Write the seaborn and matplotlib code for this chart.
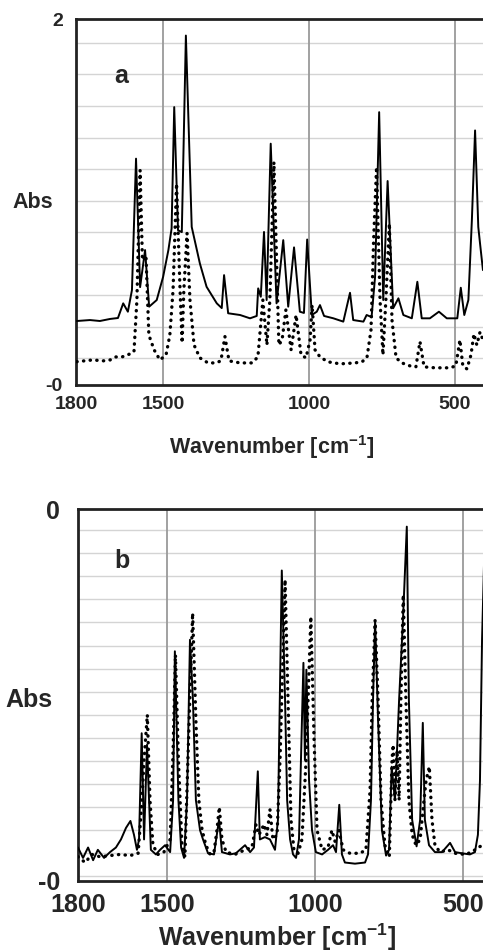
import numpy as np
import pandas as pd
import matplotlib
matplotlib.use("Agg")
import matplotlib.pyplot as plt
import seaborn as sns

# --- spectra (wavenumber [cm-1], absorbance) ---

# panel a, solid trace
a_solid_wn = [1797, 1752, 1718, 1683, 1656, 1638, 1622, 1608, 1594, 1580, 1563, 1549,
              1523, 1501, 1483, 1472, 1463, 1450, 1437, 1423, 1403, 1375, 1352, 1317,
              1300, 1292, 1278, 1237, 1203, 1180, 1175, 1166, 1155, 1146, 1132, 1112,
              1089, 1072, 1052, 1032, 1018, 1007, 991, 974, 963, 949, 917, 883, 860,
              849, 814, 803, 786, 774, 760, 746, 731, 712, 694, 677, 648, 629, 614,
              586, 555, 528, 492, 480, 468, 454, 442, 431, 420, 414, 404]
a_solid_abs = [0.236, 0.242, 0.236, 0.249, 0.255, 0.348, 0.295, 0.432, 1.266, 0.451, 0.686,
               0.327, 0.369, 0.517, 0.686, 0.823, 1.593, 0.812, 0.800, 2.047, 0.833, 0.601,
               0.453, 0.348, 0.318, 0.527, 0.285, 0.274, 0.253, 0.268, 0.443, 0.390, 0.801,
               0.369, 1.361, 0.348, 0.749, 0.327, 0.703, 0.295, 0.287, 0.753, 0.274, 0.295,
               0.337, 0.268, 0.253, 0.232, 0.415, 0.242, 0.232, 0.274, 0.261, 0.517, 1.561,
               0.369, 1.124, 0.317, 0.380, 0.274, 0.253, 0.485, 0.253, 0.253, 0.295, 0.253,
               0.253, 0.447, 0.274, 0.369, 0.875, 1.445, 0.833, 0.728, 0.559]

# panel a, dotted trace
a_dot_wn = [1797, 1742, 1707, 1683, 1663, 1642, 1615, 1601, 1591, 1580, 1572, 1560, 1550,
            1532, 1512, 1491, 1478, 1467, 1455, 1443, 1436, 1430, 1419, 1409, 1395, 1375,
            1347, 1320, 1303, 1289, 1275, 1237, 1196, 1176, 1159, 1145, 1135, 1121, 1104,
            1093, 1080, 1062, 1045, 1028, 1011, 997, 990, 980, 963, 936, 894, 843, 819,
            802, 788, 779, 769, 757, 747, 737, 725, 716, 702, 682, 654, 634, 620, 606,
            569, 517, 497, 483, 473, 459, 445, 435, 425, 414, 404]
a_dot_abs = [-0.022, -0.011, -0.017, -0.011, 0.008, 0.008, 0.027, 0.042, 0.369, 1.192, 0.622,
             0.654, 0.147, 0.053, -0.011, 0.021, 0.147, 0.432, 1.108, 0.432, 0.097, 0.432,
             0.793, 0.369, 0.084, 0.002, -0.030, -0.030, -0.017, 0.137, -0.017, -0.030,
             -0.030, 0.008, 0.369, 0.084, 0.369, 1.244, 0.084, 0.116, 0.306, 0.053, 0.274,
             0.021, 0.002, 0.116, 0.337, 0.053, 0.008, -0.023, -0.036, -0.030, -0.023,
             0.002, 0.179, 0.749, 1.213, 0.369, 0.021, 0.369, 0.855, 0.242, 0.002, -0.030,
             -0.049, -0.055, 0.105, -0.055, -0.061, -0.061, -0.049, 0.116, -0.049, -0.068,
             0.021, 0.154, 0.084, 0.166, 0.116]

# panel b, solid trace
b_solid_wn = [1800, 1783, 1766, 1749, 1733, 1712, 1692, 1672, 1655, 1638, 1623, 1611, 1601,
              1594, 1585, 1577, 1567, 1554, 1537, 1523, 1506, 1489, 1479, 1473, 1461, 1452,
              1442, 1432, 1422, 1412, 1402, 1388, 1378, 1361, 1341, 1324, 1314, 1287, 1267,
              1236, 1219, 1206, 1193, 1186, 1169, 1152, 1135, 1125, 1112, 1101, 1094, 1084,
              1074, 1064, 1054, 1044, 1039, 1034, 1029, 1020, 1010, 997, 976, 956, 939, 929,
              918, 909, 899, 865, 831, 821, 811, 804, 797, 787, 774, 760, 750, 741, 730, 716,
              703, 690, 683, 672, 657, 645, 636, 629, 615, 595, 571, 544, 527, 504, 477, 460,
              450, 443, 436, 429]
b_solid_abs = [-0.275, -0.284, -0.275, -0.286, -0.277, -0.284, -0.279, -0.275, -0.268, -0.258,
               -0.252, -0.264, -0.277, -0.268, -0.176, -0.268, -0.186, -0.277, -0.281, -0.277,
               -0.273, -0.279, -0.234, -0.105, -0.234, -0.275, -0.284, -0.234, -0.095, -0.147,
               -0.234, -0.260, -0.268, -0.280, -0.281, -0.251, -0.279, -0.281, -0.280, -0.273,
               -0.279, -0.275, -0.209, -0.268, -0.266, -0.268, -0.277, -0.251, -0.035, -0.147,
               -0.234, -0.268, -0.281, -0.284, -0.268, -0.165, -0.115, -0.199, -0.121, -0.217,
               -0.260, -0.279, -0.281, -0.277, -0.273, -0.279, -0.238, -0.281, -0.288, -0.289,
               -0.288, -0.281, -0.234, -0.147, -0.079, -0.165, -0.260, -0.282, -0.277, -0.205,
               -0.234, -0.147, -0.078, 0.003, -0.147, -0.251, -0.274, -0.251, -0.167, -0.251,
               -0.273, -0.279, -0.279, -0.271, -0.279, -0.280, -0.281, -0.279, -0.264, -0.217,
               -0.095, -0.026]

# panel b, dotted trace
b_dot_wn = [1800, 1776, 1753, 1726, 1692, 1658, 1624, 1597, 1584, 1577, 1566, 1557, 1547,
            1530, 1510, 1489, 1479, 1471, 1461, 1449, 1439, 1429, 1413, 1402, 1392, 1381,
            1368, 1354, 1341, 1331, 1323, 1314, 1300, 1270, 1236, 1213, 1199, 1189, 1172,
            1162, 1152, 1142, 1128, 1118, 1101, 1091, 1081, 1071, 1057, 1044, 1030, 1014,
            1003, 993, 976, 956, 943, 932, 919, 905, 882, 848, 828, 814, 807, 797, 787, 777,
            764, 749, 740, 736, 730, 723, 716, 710, 702, 693, 683, 672, 659, 645, 632, 625,
            614, 605, 595, 578, 551, 527, 494, 470, 450, 433]
b_dot_abs = [-0.283, -0.288, -0.281, -0.283, -0.282, -0.281, -0.282, -0.280, -0.234, -0.199,
             -0.160, -0.234, -0.273, -0.281, -0.279, -0.268, -0.191, -0.108, -0.199, -0.273,
             -0.283, -0.199, -0.072, -0.165, -0.234, -0.260, -0.273, -0.281, -0.279, -0.260,
             -0.240, -0.268, -0.279, -0.281, -0.277, -0.275, -0.255, -0.264, -0.255, -0.264,
             -0.242, -0.268, -0.264, -0.199, -0.043, -0.147, -0.251, -0.277, -0.280, -0.268,
             -0.199, -0.075, -0.182, -0.260, -0.277, -0.275, -0.260, -0.270, -0.260, -0.277,
             -0.280, -0.280, -0.277, -0.225, -0.147, -0.078, -0.147, -0.234, -0.273, -0.283,
             -0.199, -0.186, -0.234, -0.191, -0.234, -0.147, -0.056, -0.147, -0.234, -0.264,
             -0.273, -0.268, -0.234, -0.217, -0.205, -0.251, -0.273, -0.279, -0.277, -0.280,
             -0.281, -0.279, -0.275, -0.273]

x_ticks = [1800, 1500, 1000, 500]
a_limits = (-0.17, 2.15)
b_limits = (-0.304, 0.018)
a_grid = np.round(np.arange(0, 2.01, 0.2), 2)
b_grid = np.round(np.arange(-0.30, 0.001, 0.02), 2)

# --- style ---
sns.set_theme(style="white")
plt.rcParams['font.family'] = ['Liberation Sans', 'DejaVu Sans']
plt.rcParams['font.weight'] = 'bold'
plt.rcParams['mathtext.fontset'] = 'custom'
plt.rcParams['mathtext.bf'] = 'Liberation Sans:bold'
plt.rcParams['mathtext.rm'] = 'Liberation Sans:bold'

fig = plt.figure(figsize=(4.83, 9.52), dpi=100)
ax_a = fig.add_axes([0.1573, 0.5956, 0.845, 0.3841])
ax_b = fig.add_axes([0.1615, 0.0746, 0.8586, 0.3904])


def draw_panel(ax, solid_wn, solid_abs, dot_wn, dot_abs, ylim, grid, fs, lab_fs, letter,
               letter_pos, ylab_pos, xlab_pos, ypad, xpad):
    df_s = pd.DataFrame({'wn': solid_wn, 'abs': solid_abs})
    df_d = pd.DataFrame({'wn': dot_wn, 'abs': dot_abs})
    sns.lineplot(data=df_d, x='wn', y='abs', ax=ax, sort=False, estimator=None, color='black',
                 lw=2.4, linestyle=(0, (0.1, 1.9)), dash_capstyle='round', zorder=3)
    sns.lineplot(data=df_s, x='wn', y='abs', ax=ax, sort=False, estimator=None, color='black',
                 lw=1.4, zorder=4)
    ax.set_xlim(1800, 400)
    ax.set_ylim(*ylim)

    # gridlines
    ax.set_yticks(grid, minor=True)
    ax.yaxis.grid(True, which='minor', color='#d4d4d4', lw=1.0)
    for v in x_ticks[1:]:
        ax.axvline(v, color='#9a9a9a', lw=1.3, zorder=1)

    ax.set_xticks(x_ticks)
    ax.set_xticklabels([str(t) for t in x_ticks], fontsize=fs, fontweight='bold')
    ax.set_yticks(list(ylim))
    ax.set_yticklabels([f"{v:.0f}" for v in ylim], fontsize=fs, fontweight='bold')
    ax.tick_params(axis='x', which='both', length=0, pad=xpad)
    ax.tick_params(axis='y', which='both', length=0, pad=ypad)

    ax.set_ylabel('Abs', rotation=0, fontsize=lab_fs, fontweight='bold', ha='center', va='center')
    ax.yaxis.set_label_coords(*ylab_pos)
    ax.set_xlabel(r'Wavenumber [cm$^{\mathbf{-1}}$]', fontsize=lab_fs, fontweight='bold',
                  va='center')
    ax.xaxis.set_label_coords(*xlab_pos)

    ax.text(letter_pos[0], letter_pos[1], letter, transform=ax.transAxes, fontsize=18,
            fontweight='bold', ha='center', va='center')

    for side in ['left', 'top', 'bottom']:
        ax.spines[side].set_color('#222222')
        ax.spines[side].set_linewidth(2.0)
    ax.spines['right'].set_visible(False)


draw_panel(ax_a, a_solid_wn, a_solid_abs, a_dot_wn, a_dot_abs, a_limits, a_grid, 14, 15.5, 'a',
           (0.11, 0.845), (-0.105, 0.5), (0.479, -0.17), 9.5, 8)
draw_panel(ax_b, b_solid_wn, b_solid_abs, b_dot_wn, b_dot_abs, b_limits, b_grid, 18, 18, 'b',
           (0.107, 0.861), (-0.118, 0.487), (0.481, -0.151), 13, 9)

fig.savefig('out.png', dpi=100)
